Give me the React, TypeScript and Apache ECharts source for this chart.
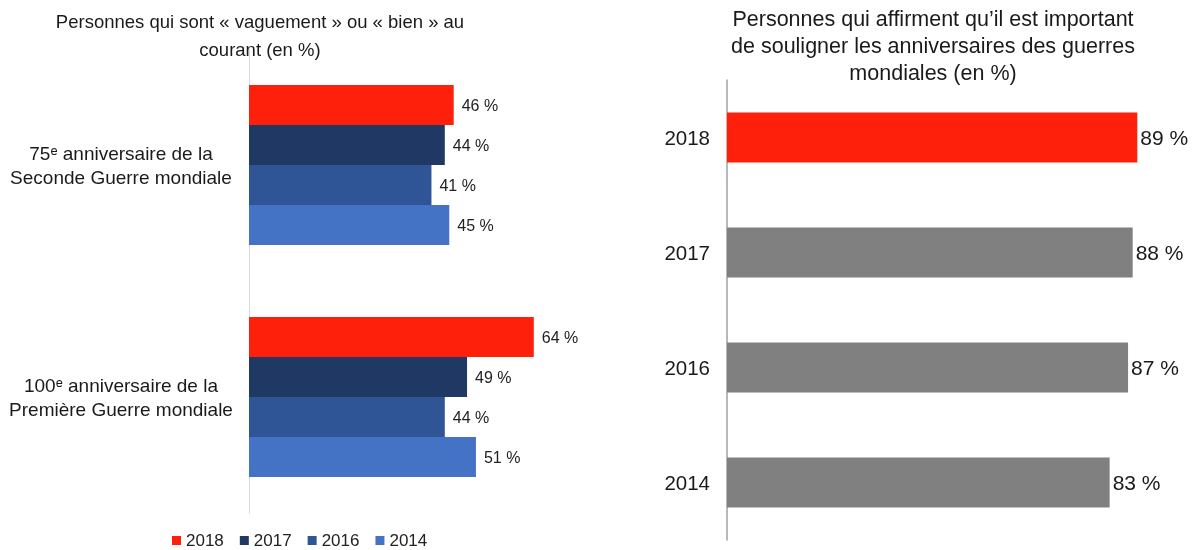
import React, { useEffect, useRef } from "react";
import * as echarts from "echarts";

const leftTitle = "Personnes qui sont « vaguement » ou « bien » au\ncourant (en %)";
const rightTitle = "Personnes qui affirment qu’il est important\nde souligner les anniversaires des guerres\nmondiales (en %)";

const leftCategories = [
  "75ᵉ anniversaire de la\nSeconde Guerre mondiale",
  "100ᵉ anniversaire de la\nPremière Guerre mondiale",
];
const leftSeriesNames = ["2018", "2017", "2016", "2014"];
const values2018 = [46, 64];
const values2017 = [44, 49];
const values2016 = [41, 44];
const values2014 = [45, 51];
const leftColors = ["#FF200C", "#1F3864", "#2F5597", "#4472C4"];

const rightCategories = ["2018", "2017", "2016", "2014"];
const rightValues = [89, 88, 87, 83];
const rightColors = ["#FF200C", "#808080", "#808080", "#808080"];

const FONT = "'Liberation Sans', Arial, sans-serif";

export default function App() {
  const ref = useRef<HTMLDivElement>(null);
  useEffect(() => {
    if (!ref.current) return;
    const chart = echarts.init(ref.current, null, { renderer: "svg" });
    const leftData = [values2018, values2017, values2016, values2014];
    const option: any = {
      animation: false,
      textStyle: { fontFamily: FONT },
      graphic: [
        {
          type: "text",
          x: 260,
          y: 7,
          style: {
            text: leftTitle,
            textAlign: "center",
            textVerticalAlign: "top",
            font: `18.5px ${FONT}`,
            lineHeight: 28,
            fill: "#1a1a1a",
          },
        },
        {
          type: "text",
          x: 933,
          y: 5,
          style: {
            text: rightTitle,
            textAlign: "center",
            textVerticalAlign: "top",
            font: `21.5px ${FONT}`,
            lineHeight: 27,
            fill: "#1a1a1a",
          },
        },
      ],
      legend: {
        data: leftSeriesNames,
        left: 172,
        top: 532,
        padding: 0,
        icon: "rect",
        itemWidth: 9,
        itemHeight: 9,
        itemGap: 16,
        textStyle: { fontSize: 17, color: "#222", fontFamily: FONT },
      },
      grid: [
        { left: 249, top: 49, width: 356, height: 464 },
        { left: 727, top: 80, width: 461, height: 460 },
      ],
      xAxis: [
        { type: "value", gridIndex: 0, min: 0, max: 80, show: false, splitLine: { show: false } },
        { type: "value", gridIndex: 1, min: 0, max: 100, show: false, splitLine: { show: false } },
      ],
      yAxis: [
        {
          type: "category",
          gridIndex: 0,
          data: leftCategories,
          inverse: true,
          axisLine: { lineStyle: { color: "#D9D9D9", width: 1 } },
          axisTick: { show: false },
          axisLabel: {
            align: "center",
            margin: 128,
            fontSize: 19,
            lineHeight: 24,
            color: "#1a1a1a",
            fontFamily: FONT,
          },
        },
        {
          type: "category",
          gridIndex: 1,
          data: rightCategories,
          inverse: true,
          axisLine: { lineStyle: { color: "#A0A0A0", width: 1.5 } },
          axisTick: { show: false },
          axisLabel: { margin: 17, fontSize: 20.5, color: "#1a1a1a", fontFamily: FONT },
        },
      ],
      series: [
        ...leftSeriesNames.map((name, i) => ({
          type: "bar",
          name,
          xAxisIndex: 0,
          yAxisIndex: 0,
          data: leftData[i],
          barWidth: 40,
          barGap: "0%",
          itemStyle: { color: leftColors[i] },
          label: {
            show: true,
            position: "right",
            distance: 8,
            formatter: "{c} %",
            fontSize: 16,
            color: "#222",
            fontFamily: FONT,
          },
        })),
        {
          type: "bar",
          name: "importance",
          xAxisIndex: 1,
          yAxisIndex: 1,
          barWidth: 50,
          data: rightValues.map((v, i) => ({ value: v, itemStyle: { color: rightColors[i] } })),
          label: {
            show: true,
            position: "right",
            distance: 3,
            formatter: "{c} %",
            fontSize: 21,
            color: "#1a1a1a",
            fontFamily: FONT,
          },
        },
      ],
    };
    chart.setOption(option);
    return () => chart.dispose();
  }, []);
  return (
    <div
      ref={ref}
      style={{ position: "fixed", left: 0, top: 0, width: 1196, height: 550 }}
    />
  );
}
